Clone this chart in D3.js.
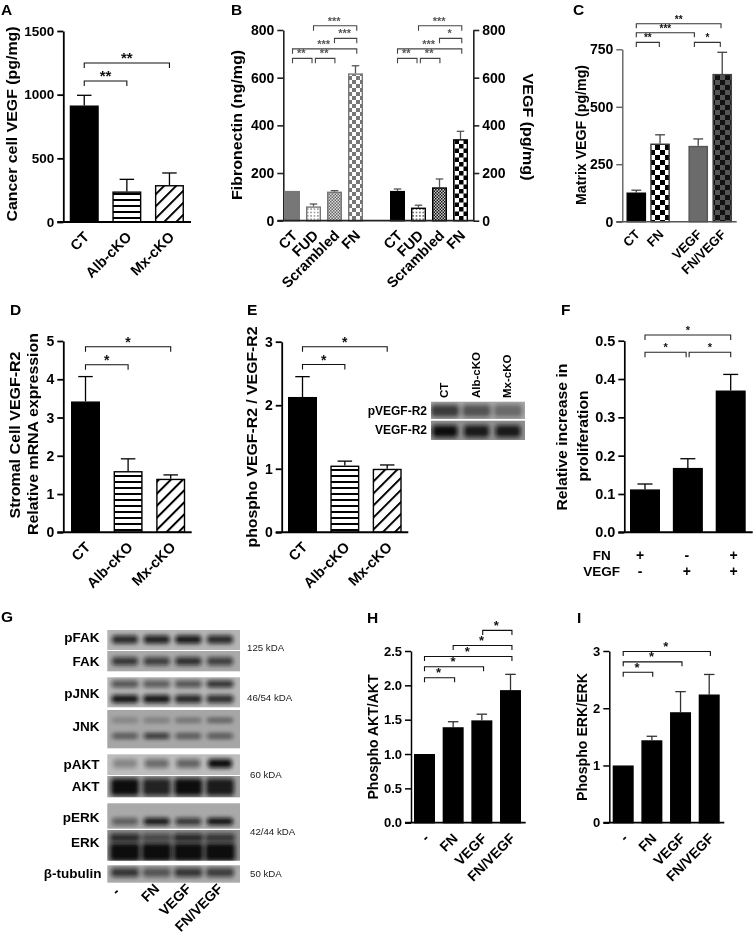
<!DOCTYPE html>
<html><head><meta charset="utf-8">
<script src="https://cdn.jsdelivr.net/npm/d3@7"></script>
<style>html,body{margin:0;padding:0;background:#fff}svg{display:block;filter:blur(.35px)}text{font-family:"Liberation Sans",Arial,sans-serif}</style>
</head><body><div id="chart"></div>
<script>
// ---------- data ----------
const aCategories=["CT","Alb-cKO","Mx-cKO"], aValues=[915,240,290], aUpper=[995,335,385], aTicks=[0,500,1000,1500];
const aBrackets=[[0,1,1107,"**"],[0,2,1249,"**"]];
const bCategories=["CT","FUD","Scrambled","FN","CT","FUD","Scrambled","FN"], bSlots=[0,1,2,3,5,6,7,8];
const bValues=[125,60,122,618,125,55,140,342], bUpper=[125,70,126,650,133,65,175,375], bTicks=[0,200,400,600,800];
const bBrackets=[[0,.93,681,"**"],[1.09,2.02,681,"**"],[0,3.06,721,"***"],[2,3.06,765,"***"],[1,3.06,818,"***"],
 [5,5.93,681,"**"],[6.09,7.02,681,"**"],[5,8.06,721,"***"],[7,8.06,765,"*"],[6,8.06,818,"***"]];
const cCategories=["CT","FN","VEGF","FN/VEGF"], cSlots=[0,.99,2.58,3.58];
const cValues=[127,340,330,643], cUpper=[137,378,360,737], cTicks=[0,250,500,750];
const cBrackets=[[0,.96,780,"**"],[0,2.42,822,"***"],[0,3.53,861,"**"],[2.42,3.5,780,"*"]];
const dCategories=["CT","Alb-cKO","Mx-cKO"], dValues=[3.42,1.6,1.4], dUpper=[4.07,1.92,1.5], dTicks=[0,1,2,3,4,5];
const dBrackets=[[0,1,4.38,"*"],[0,2,4.85,"*"]];
const eCategories=["CT","Alb-cKO","Mx-cKO"], eValues=[2.13,1.05,1.0], eUpper=[2.45,1.12,1.06], eTicks=[0,1,2,3];
const eBrackets=[[0,1,2.64,"*"],[0,2,2.92,"*"]];
const fValues=[.112,.168,.37], fUpper=[.126,.192,.412], fTicks=[0,.1,.2,.3,.4,.5];
const fRowFN=["+","-","+"], fRowVEGF=["-","+","+"];
const fBrackets=[[0,.96,.47,"*"],[1.03,2,.47,"*"],[0,2,.515,"*"]];
const hCategories=["-","FN","VEGF","FN/VEGF"], hValues=[1,1.39,1.49,1.93], hUpper=[1,1.47,1.58,2.16], hTicks=[0,.5,1,1.5,2,2.5];
const hBrackets=[[0,1.05,2.11,"*"],[0,2.06,2.27,"*"],[0,3.05,2.42,"*"],[1,3.05,2.58,"*"],[2.03,3.05,2.8,"*"]];
const iCategories=["-","FN","VEGF","FN/VEGF"], iValues=[1,1.44,1.93,2.24], iUpper=[1,1.51,2.29,2.59], iTicks=[0,1,2,3];
const iBrackets=[[0,1.03,2.63,"*"],[0,2.05,2.81,"*"],[0,3.04,2.99,"*"]];
const gLanes=["-","FN","VEGF","FN/VEGF"];
const gNames=["pFAK","FAK","pJNK","JNK","pAKT","AKT","pERK","ERK","β-tubulin"];
const gShade=["#b4b4b4","#a9a9a9","#b6b6b6","#a6a6a6","#bdbdbd","#a0a0a0","#a9a9a9","#8c8c8c","#ababab"];
const gBandsA=[[.85,.9,.95,.85],[.75,.7,.8,.7],[.6,.55,.6,.8],[.3,.35,.45,.6],[.3,.45,.5,1],[1,.85,1,.9],[.5,.95,.75,1],[.8,.55,.8,.7],[.75,.55,.75,.7]];
const gBandsB=[null,null,[.95,.95,.85,.8],[.6,.85,.6,.6],null,null,null,[1,1,1,1],null];
const gWeights=["125 kDA","46/54 kDA","60 kDA","42/44 kDA","50 kDA"];
const eBlotNames=["pVEGF-R2","VEGF-R2"], eBlotLanes=["CT","Alb-cKO","Mx-cKO"], eBlotBands=[[.7,.55,.4],[1,.9,.9]];

// ---------- drawing ----------
const svg=d3.select("#chart").append("svg").attr("width",753).attr("height",935);
const defs=svg.append("defs");
function checker(id,s,a,b){const p=defs.append("pattern").attr("id",id).attr("width",2*s).attr("height",2*s).attr("patternUnits","userSpaceOnUse");
 p.append("rect").attr("width",2*s).attr("height",2*s).attr("fill",a);
 p.append("rect").attr("width",s).attr("height",s).attr("fill",b);
 p.append("rect").attr("x",s).attr("y",s).attr("width",s).attr("height",s).attr("fill",b);}
checker("ckGray",4,"#fff","#777");checker("ckBlack",4.5,"#fff","#000");checker("ckC",5,"#fff","#000");checker("ckD",5,"#555","#111");
checker("fineGray",1.5,"#ddd","#666");checker("fineBlack",1.5,"#ccc","#111");
function dots(id,c){const p=defs.append("pattern").attr("id",id).attr("width",3.4).attr("height",3.4).attr("patternUnits","userSpaceOnUse");
 p.append("rect").attr("width",3.4).attr("height",3.4).attr("fill","#fff");
 p.append("circle").attr("cx",1.7).attr("cy",1.7).attr("r",.75).attr("fill",c);}
dots("dotGray","#777");dots("dotBlack","#333");
const hp=defs.append("pattern").attr("id","hs").attr("width",6).attr("height",6).attr("patternUnits","userSpaceOnUse");
hp.append("rect").attr("width",6).attr("height",6).attr("fill","#fff");hp.append("rect").attr("y",1).attr("width",6).attr("height",2).attr("fill","#000");
const dp=defs.append("pattern").attr("id","ds").attr("width",8.5).attr("height",8.5).attr("patternUnits","userSpaceOnUse").attr("patternTransform","rotate(45)");
dp.append("rect").attr("width",8.5).attr("height",8.5).attr("fill","#fff");dp.append("rect").attr("width",2).attr("height",8.5).attr("fill","#000");
defs.append("filter").attr("id","soft").attr("x","-40%").attr("y","-100%").attr("width","180%").attr("height","300%").append("feGaussianBlur").attr("stdDeviation",2.2);

function txt(x,y,s,size,opt={}){const t=svg.append("text").attr("x",x).attr("y",y).attr("font-size",size).attr("font-weight",opt.w||"bold")
 .attr("text-anchor",opt.a||"middle").attr("fill",opt.c||"#000").text(s);
 if(opt.r!==undefined)t.attr("transform",`rotate(${opt.r},${x},${y})`);
 if(opt.len)t.attr("textLength",opt.len).attr("lengthAdjust","spacingAndGlyphs");return t;}
function yLab(x,cy,s,size,len,r=-90,c){txt(x,cy,s,size,{r,len,c}).attr("dominant-baseline","middle");}

function panel(o){
 const y=d3.scaleLinear().domain([0,o.top]).range([o.y0,o.yTop]);
 const x=d3.scaleLinear().domain([0,1]).range([o.x0,o.x0+o.step]);
 const slots=o.slots||o.values.map((_,i)=>i), col=o.color||"#000", sw=o.sw||1.8;
 const g=svg.append("g");
 o.values.forEach((v,i)=>{
  const cx=x(slots[i]),w=o.w,fill=o.fills?o.fills[i]:"#000",st=o.strokes?o.strokes[i]:"#000";
  g.append("line").attr("x1",cx).attr("x2",cx).attr("y1",y(o.upper[i])).attr("y2",y(v)).attr("stroke",o.ebar||col).attr("stroke-width",1.3);
  if(o.upper[i]>v)g.append("line").attr("x1",cx-w*.25).attr("x2",cx+w*.25).attr("y1",y(o.upper[i])).attr("y2",y(o.upper[i])).attr("stroke",o.ebar||col).attr("stroke-width",1.3);
  g.append("rect").attr("x",cx-w/2+.7).attr("width",w-1.4).attr("y",y(v)+.7).attr("height",o.y0-y(v)-.7).attr("fill",fill).attr("stroke",st).attr("stroke-width",1.4);
 });
 const ax=d3.axisLeft(y).tickValues(o.ticks).tickSize(6).tickSizeOuter(0).tickPadding(3).tickFormat(d3.format(o.fmt||"d"));
 const style=(a,s)=>{a.selectAll("path,line").attr("stroke",col).attr("stroke-width",sw);a.selectAll("text").attr("font-size",s).attr("font-weight","bold").attr("fill","#000").style("font-family",'"Liberation Sans",sans-serif');};
 svg.append("g").attr("transform",`translate(${o.axisX},0)`).call(ax).call(a=>style(a,o.tickSize||14));
 if(o.rightAxis){const r=d3.axisRight(y).tickValues(o.ticks).tickSize(6).tickSizeOuter(0).tickPadding(3).tickFormat(d3.format("d"));
  svg.append("g").attr("transform",`translate(${o.rightAxis},0)`).call(r).call(a=>style(a,o.tickSize||14));}
 svg.append("line").attr("x1",o.axisX-6).attr("x2",o.baseEnd).attr("y1",o.y0).attr("y2",o.y0).attr("stroke",col).attr("stroke-width",sw+.2);
 (o.brackets||[]).forEach(b=>{
  const xa=x(b[0]),xb=x(b[1]),yb=y(b[2]);
  svg.append("path").attr("d",`M${xa},${yb+o.bt}V${yb}H${xb}V${yb+o.bt}`).attr("fill","none").attr("stroke",o.bc||"#111").attr("stroke-width",o.bw||1.1);
  txt((xa+xb)/2+(o.sdx||0),yb+(o.sdy||0),b[3],o.star||14,{c:o.sc||"#111"});
 });
 if(o.cats)o.cats.forEach((c,i)=>{txt(x(slots[i])+(o.ldx||3),o.y0+(o.ldy||13),c,o.catSize||14.5,{a:"end",r:-45}).attr("dominant-baseline","middle");});
 return {x,y};
}
panel({values:aValues,upper:aUpper,ticks:aTicks,top:1500,y0:222,yTop:31,x0:84.25,step:42.6,w:29,axisX:63.3,baseEnd:191,cats:aCategories,brackets:aBrackets,bt:5,
 fills:["#000","url(#hs)","url(#ds)"],star:15,tickSize:13.5});
panel({values:bValues,upper:bUpper,ticks:bTicks,slots:bSlots,top:800,y0:220.7,yTop:30,x0:292.5,step:21,w:15,axisX:283.3,rightAxis:473.3,baseEnd:473.3,cats:bCategories,brackets:bBrackets,bt:5,
 fills:["#777","url(#dotGray)","url(#fineGray)","url(#ckGray)","#000","url(#dotBlack)","url(#fineBlack)","url(#ckBlack)"],
 strokes:["#777","#777","#777","#777","#000","#000","#000","#000"],ebar:"#555",color:"#222",bc:"#444",sc:"#555",star:11,sdx:-1,sdy:-1,ldx:3,catSize:14.5,sw:1.6});
panel({values:cValues,upper:cUpper,ticks:cTicks,slots:cSlots,top:750,y0:221.7,yTop:49.3,x0:636.3,step:24,w:19.6,axisX:622.3,baseEnd:736.7,cats:cCategories,brackets:cBrackets,bt:4.5,
 fills:["#000","url(#ckC)","#6b6b6b","url(#ckD)"],strokes:["#000","#333","#555","#444"],ebar:"#444",color:"#555",bc:"#333",star:10,sdy:-1,catSize:13,ldx:2,ldy:11,sw:1.3,tickSize:14});
panel({values:dValues,upper:dUpper,ticks:dTicks,top:5,y0:532.3,yTop:341,x0:85.5,step:42.6,w:29,axisX:63.3,baseEnd:191.7,cats:dCategories,brackets:dBrackets,bt:5,fills:["#000","url(#hs)","url(#ds)"],star:14,tickSize:14,catSize:14.5});
panel({values:eValues,upper:eUpper,ticks:eTicks,top:3,y0:532.3,yTop:341.7,x0:302.5,step:42.35,w:29,axisX:281.7,baseEnd:408.3,cats:eCategories,brackets:eBrackets,bt:5,fills:["#000","url(#hs)","url(#ds)"],star:14,catSize:14.5});
const fp=panel({values:fValues,upper:fUpper,ticks:fTicks,fmt:".1f",top:.5,y0:532.3,yTop:340.7,x0:645,step:42.85,w:30,axisX:624.3,baseEnd:752.7,brackets:fBrackets,bt:5,star:11,color:"#000",bc:"#222",sdy:-1,sw:1.7,tickSize:14.5});
panel({values:hValues,upper:hUpper,ticks:hTicks,fmt:".1f",top:2.5,y0:822.7,yTop:651,x0:424.5,step:28.67,w:21,axisX:411,baseEnd:525.7,cats:hCategories,brackets:hBrackets,bt:4.5,star:13,ebar:"#333",sdx:-1,sdy:-.5,catSize:14,ldx:3,ldy:14,tickSize:13,sw:1.5});
panel({values:iValues,upper:iUpper,ticks:iTicks,top:3,y0:822.7,yTop:651,x0:623.2,step:28.67,w:21,axisX:609.3,baseEnd:724.3,cats:iCategories,brackets:iBrackets,bt:4.5,star:13,ebar:"#333",sdx:-1,sdy:-.5,catSize:14,ldx:3,ldy:14,tickSize:13,sw:1.5});

// axis titles
yLab(13,124,"Cancer cell VEGF (pg/mg)",15.5,195);
yLab(238,125,"Fibronectin (ng/mg)",15,150);
yLab(527,127,"VEGF (pg/mg)",15,107,90);
yLab(582,135,"Matrix VEGF (pg/mg)",14.5,140);
yLab(16,435,"Stromal Cell VEGF-R2",15,167);
yLab(34,434,"Relative mRNA expression",15,202);
yLab(253,437,"phospho VEGF-R2 / VEGF-R2",15,221);
yLab(563,437,"Relative increase in",14.5,147);
yLab(584,436,"proliferation",14.5,91);
yLab(374,737,"Phospho AKT/AKT",14,125);
yLab(583,737,"Phospho ERK/ERK",14,128);

// panel F condition table
txt(610.7,560,"FN",13.5,{a:"end"});txt(620,576,"VEGF",13.5,{a:"end"});
const fSymbolShift=[-5,-1,3];
fRowFN.forEach((s,i)=>txt(fp.x(i)+fSymbolShift[i],560,s,14));
fRowVEGF.forEach((s,i)=>txt(fp.x(i)+fSymbolShift[i],576,s,14));

// panel letters
[["A",1,14.5],["B",231,14.5],["C",573,14.5],["D",10,315],["E",247,315],["F",561,315],["G",1,622],["H",367,623],["I",577,623]]
 .forEach(d=>txt(d[1],d[2],d[0],15.5,{a:"start"}));

// blots
function blot(x0,x1,y0,y1,shade,lane,a,b,posA,posB,bw,bhA,bhB){
 const clip="c"+Math.round(x0)+"_"+Math.round(y0);
 defs.append("clipPath").attr("id",clip).append("rect").attr("x",x0).attr("y",y0).attr("width",x1-x0).attr("height",y1-y0);
 svg.append("rect").attr("x",x0).attr("y",y0).attr("width",x1-x0).attr("height",y1-y0).attr("fill",shade);
 const g=svg.append("g").attr("clip-path",`url(#${clip})`);
 const band=(vals,pos,h)=>vals.forEach((v,i)=>g.append("rect").attr("x",lane(i)-bw/2).attr("width",bw).attr("y",y0+(y1-y0)*pos-h/2).attr("height",h).attr("rx",3).attr("fill","#0a0a0a").attr("opacity",v).attr("filter","url(#soft)"));
 band(a,posA,bhA); if(b)band(b,posB,bhB);
}
const gLane=d3.scalePoint().domain(d3.range(gLanes.length)).range([125,220]);
const gTop=[30,51,77.3,110,154.3,176,203.3,230,265.3], gBot=[50,71.3,107.3,148.3,175,197.3,228.7,260.7,282.7];
const gPos=[[.47],[.5],[.22,.72],[.27,.68],[.45],[.52],[.72],[.25,.72],[.42]], gH=[[8],[8],[7,8],[4,5],[9],[17],[7],[8,18],[9]];
const gW=[26,26,27,26,24,28,26,30,28];
gNames.forEach((n,i)=>{
 blot(107.3,240,600+gTop[i],600+gBot[i],gShade[i],gLane,gBandsA[i],gBandsB[i],gPos[i][0],gPos[i][1],gW[i],gH[i][0],gH[i][1]);
});
const gLabY=[38.3,62.7,94,127,165.7,187.3,218.3,243.3,274];
gNames.forEach((n,i)=>txt(i==8?101.5:99.5,600+gLabY[i],n,13.5,{a:"end"}).attr("dominant-baseline","middle"));
[[247,48.3],[247,98.7],[250,175],[250,232.3],[250,274.7]].forEach((p,i)=>txt(p[0],600+p[1],gWeights[i],9.7,{a:"start",w:"normal",c:"#222"}).attr("dominant-baseline","middle"));
gLanes.forEach((l,i)=>txt(gLane(i)+(i==0?-7:1),600+(i==0?290:287),l,14,{a:"end",r:-45}).attr("dominant-baseline","middle"));

const eLane=d3.scalePoint().domain(d3.range(3)).range([445,508]);
blot(431,525,401.7,419,"#a8a8a8",eLane,eBlotBands[0],null,.52,0,28,12,0);
blot(431,525,420.7,440,"#8f8f8f",eLane,eBlotBands[1],null,.55,0,25,12,0);
txt(427,412.3,eBlotNames[0],12,{a:"end"}).attr("dominant-baseline","middle");
txt(427,431.3,eBlotNames[1],12,{a:"end"}).attr("dominant-baseline","middle");
eBlotLanes.forEach((l,i)=>txt(eLane(i),398,l,11.5,{a:"start",r:-90}).attr("dominant-baseline","middle"));
</script></body></html>
